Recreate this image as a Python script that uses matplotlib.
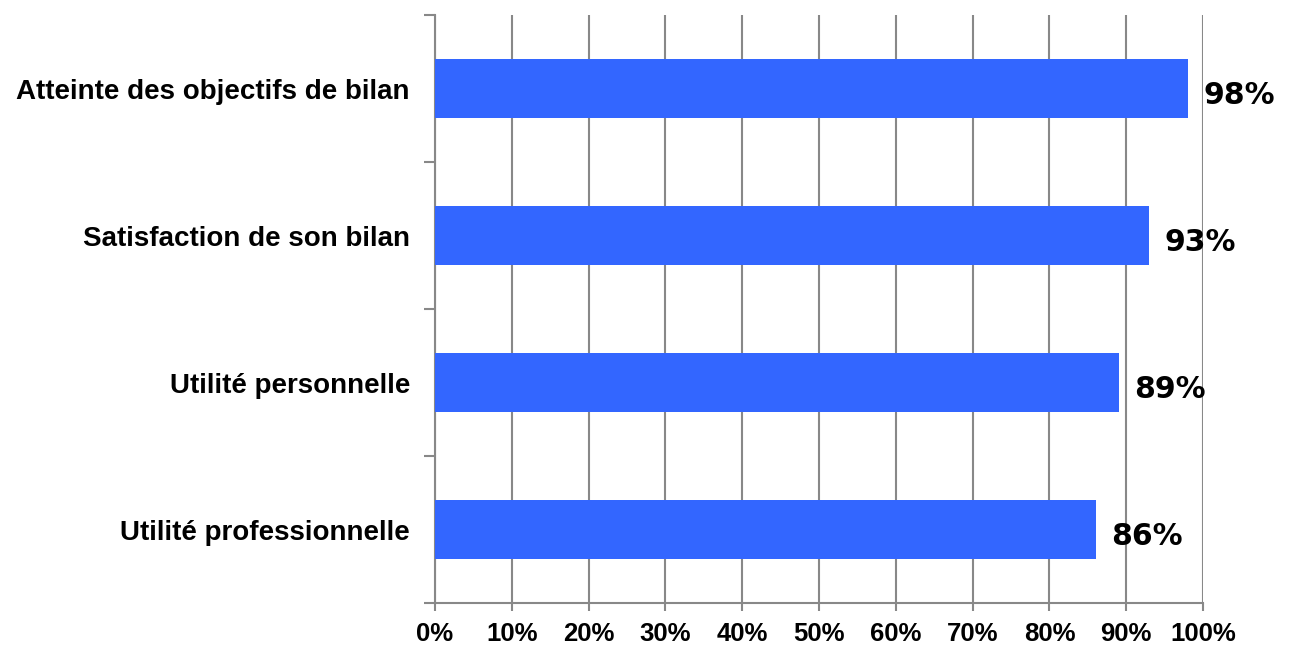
import matplotlib.pyplot as plt
from matplotlib.ticker import FixedLocator, FuncFormatter

categories = ['Utilité professionnelle', 'Utilité personnelle',
              'Satisfaction de son bilan', 'Atteinte des objectifs de bilan']
values = [86, 89, 93, 98]
xticks = list(range(0, 101, 10))

plt.rcParams['font.family'] = ['Liberation Sans', 'DejaVu Sans']

fig = plt.figure(figsize=(12.9, 6.45), dpi=100)
ax = fig.add_axes([0.3372, 0.0651, 0.5954, 0.9116])

pos = list(range(len(categories)))
ax.barh(pos, values, height=0.4, color='#3366FF', zorder=3)

for y, v in zip(pos, values):
    ax.text(v + 2, y - 0.05, '%d%%' % v, va='center', ha='left',
            fontsize=21.5, fontweight='bold', family='DejaVu Sans', zorder=4)

ax.set_xlim(0, 100)
ax.set_ylim(-0.5, len(categories) - 0.5)

ax.set_xticks(xticks)
ax.xaxis.set_major_formatter(FuncFormatter(lambda x, p: '%d%%' % x))
ax.grid(axis='x', color='#888888', linewidth=1.5, zorder=0)

# boundary ticks on y axis, labels at the bar centres
ax.yaxis.set_major_locator(FixedLocator([p - 0.5 for p in pos] + [len(pos) - 0.5]))
ax.yaxis.set_major_formatter(FuncFormatter(lambda x, p: ''))
ax.set_yticks(pos, minor=True)
ax.set_yticklabels(categories, minor=True, fontsize=20, fontweight='bold')
ax.tick_params(axis='y', which='minor', length=0, pad=18)
ax.tick_params(axis='y', which='major', length=8, width=1.5, color='#888888')
ax.tick_params(axis='x', length=6, width=1.5, color='#888888', pad=8,
               labelsize=18.5)
for lab in ax.get_xticklabels():
    lab.set_fontweight('bold')

for s in ['top', 'right']:
    ax.spines[s].set_visible(False)
for s in ['left', 'bottom']:
    ax.spines[s].set_color('#888888')
    ax.spines[s].set_linewidth(1.5)

plt.savefig('out.png', dpi=100)
